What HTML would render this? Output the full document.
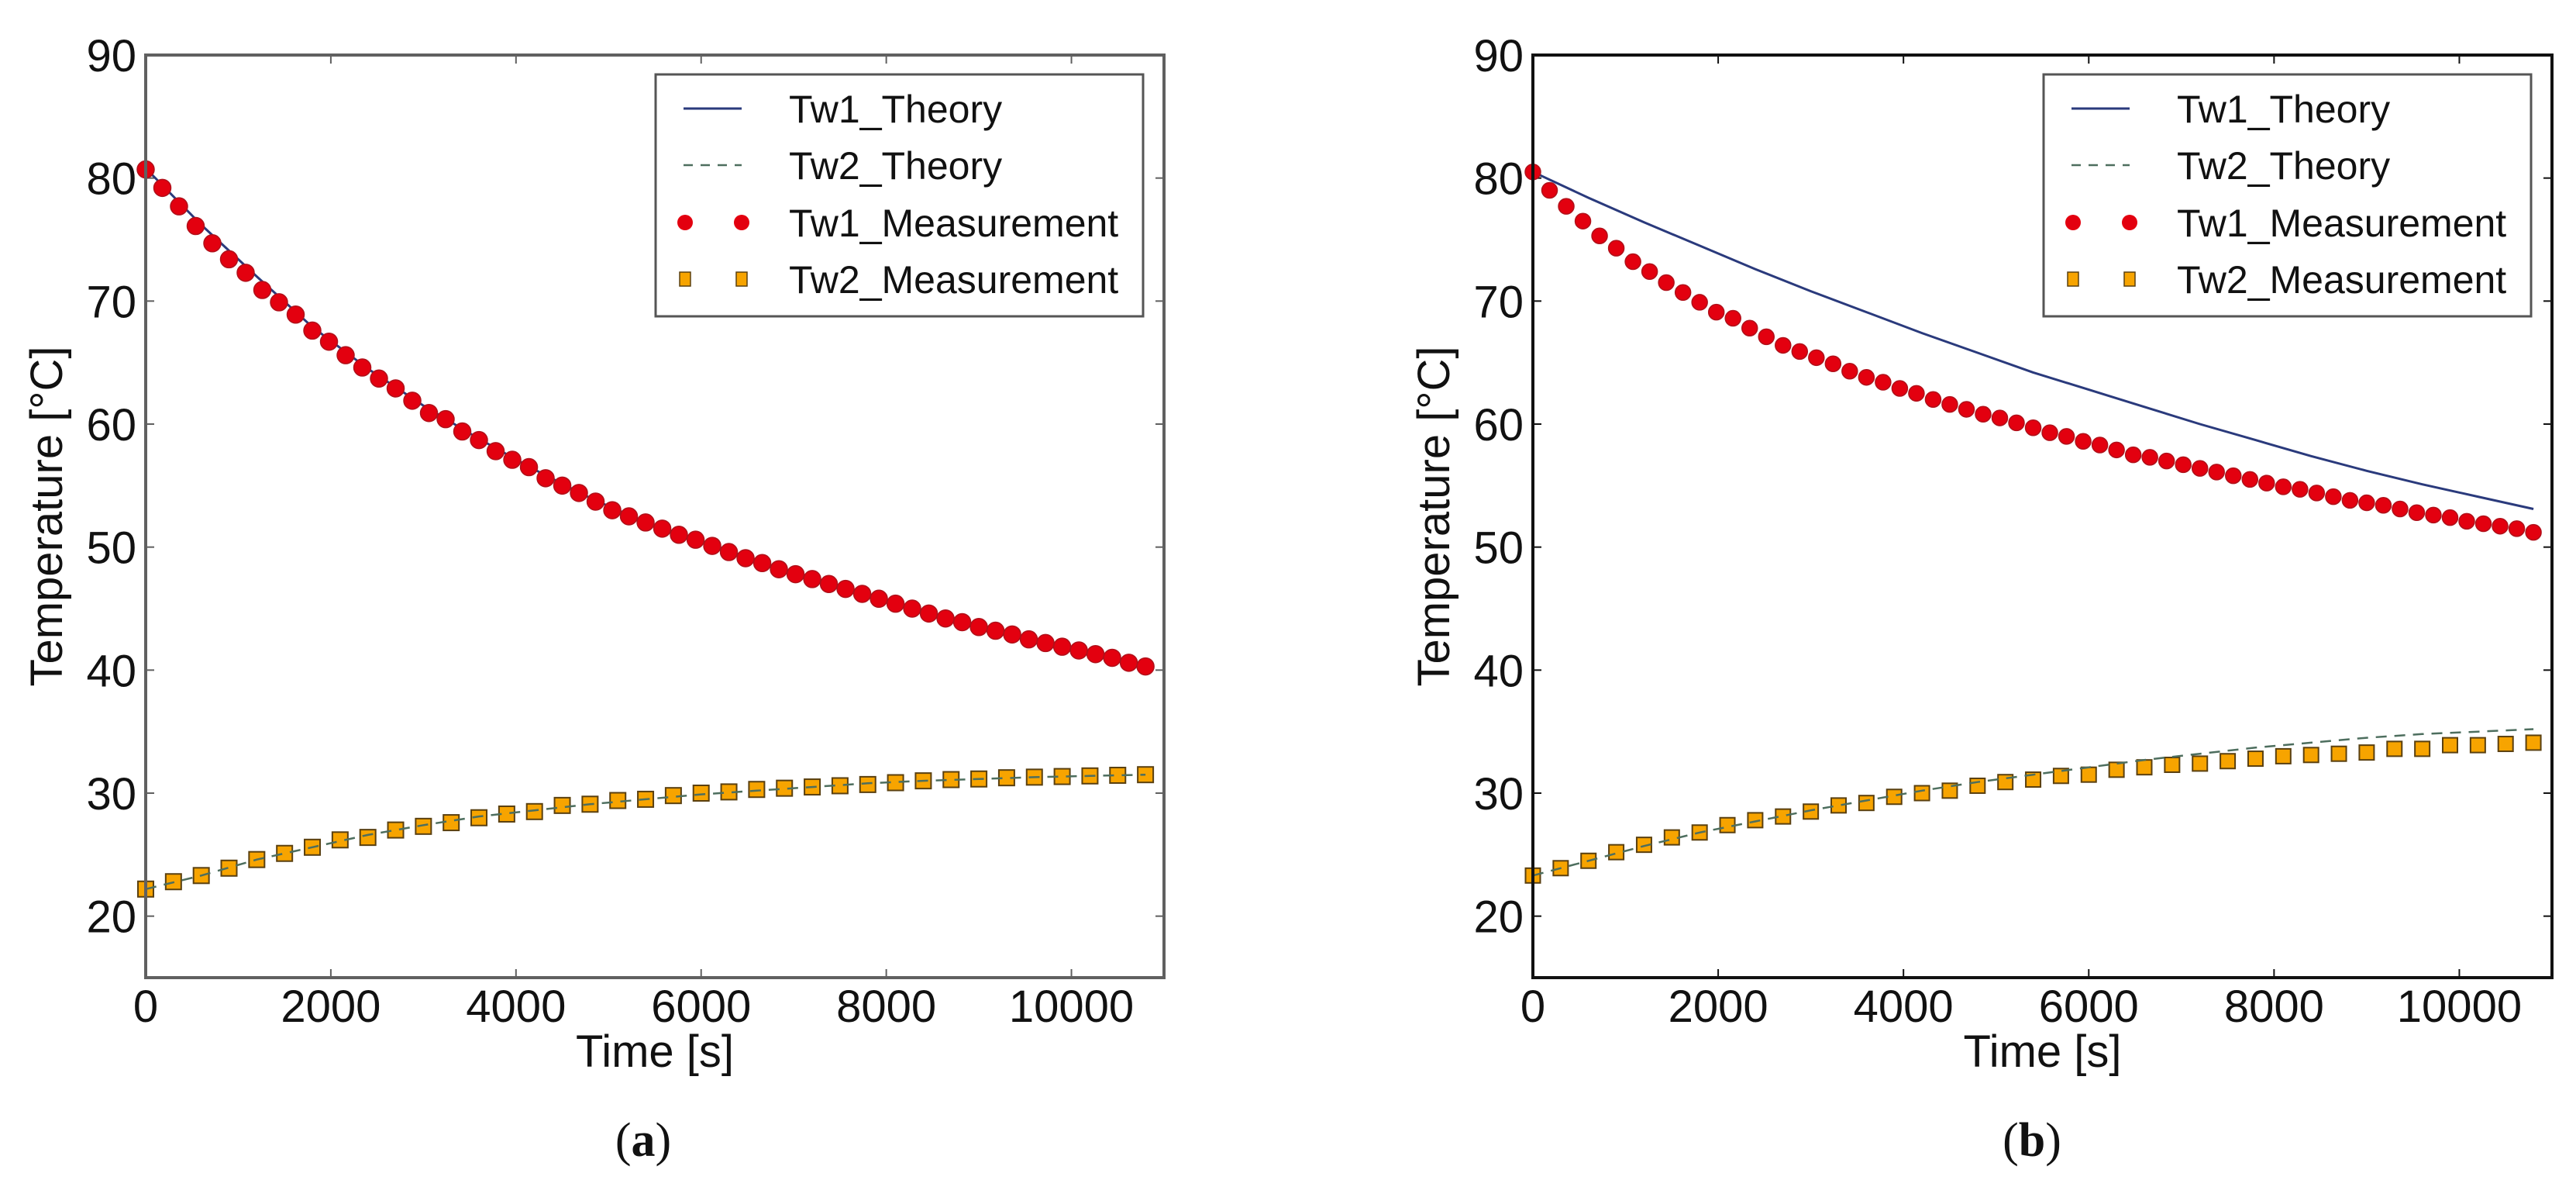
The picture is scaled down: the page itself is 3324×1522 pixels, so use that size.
<!DOCTYPE html>
<html><head><meta charset="utf-8"><title>Temperature vs Time</title>
<style>
html,body{margin:0;padding:0;background:#fff;}
svg{display:block;}
text{font-family:"Liberation Sans",Arial,sans-serif;fill:#111;}
</style></head>
<body>
<svg id="fig" width="3324" height="1522" viewBox="0 0 3324 1522" xmlns="http://www.w3.org/2000/svg">
<rect x="0" y="0" width="3324" height="1522" fill="#fff"/>
</svg>
<script>
// ---------- data ----------
const xTicks = [0, 2000, 4000, 6000, 8000, 10000];
const yTicks = [20, 30, 40, 50, 60, 70, 80, 90];
const legendLabels = ["Tw1_Theory", "Tw2_Theory", "Tw1_Measurement", "Tw2_Measurement"];
const theoryTimes = [0,600,1200,1800,2400,3000,3600,4200,4800,5400,6000,6600,7200,7800,8400,9000,9600,10200,10800];
const tw1DotStep = 180;
const tw2SqStep = 300;

// panel (a)
const aTw1Theory = [80.8,76.2,72.0,67.9,64.5,61.5,58.8,56.3,54.0,52.0,50.5,48.9,47.4,46.0,44.7,43.5,42.4,41.4,40.3];
const aTw2Theory = [22.2,23.3,24.6,25.6,26.6,27.4,28.1,28.6,29.1,29.5,29.9,30.2,30.5,30.8,31.0,31.15,31.3,31.4,31.5];
const aTw1Meas = [80.7,79.2,77.7,76.1,74.7,73.4,72.3,70.9,69.9,68.9,67.6,66.7,65.6,64.6,63.7,62.9,61.9,60.9,60.4,59.4,58.7,57.8,57.1,56.5,55.6,55.0,54.4,53.7,53.0,52.5,52.0,51.5,51.0,50.6,50.1,49.6,49.1,48.7,48.2,47.8,47.4,47.0,46.6,46.2,45.8,45.4,45.0,44.6,44.2,43.9,43.5,43.2,42.9,42.5,42.2,41.9,41.6,41.3,41.0,40.6,40.3];
const aTw2Meas = [22.2,22.8,23.3,23.9,24.6,25.1,25.6,26.2,26.4,27.0,27.3,27.6,28.0,28.3,28.5,29.0,29.1,29.4,29.5,29.8,30.0,30.1,30.3,30.4,30.5,30.6,30.7,30.85,31.0,31.1,31.15,31.25,31.3,31.35,31.4,31.45,31.5];

// panel (b)
const bTw1Theory = [80.5,78.4,76.4,74.5,72.6,70.8,69.1,67.4,65.8,64.2,62.8,61.4,60.0,58.7,57.4,56.2,55.1,54.1,53.1];
const bTw2Theory = [23.3,24.5,25.7,26.8,27.7,28.6,29.4,30.2,30.9,31.5,32.1,32.7,33.2,33.7,34.1,34.5,34.8,35.0,35.2];
const bTw1Meas = [80.5,79.0,77.7,76.5,75.3,74.3,73.2,72.4,71.5,70.7,69.9,69.1,68.6,67.8,67.1,66.4,65.9,65.4,64.9,64.3,63.8,63.4,62.9,62.5,62.0,61.6,61.2,60.8,60.5,60.1,59.7,59.3,59.0,58.6,58.3,57.9,57.5,57.3,57.0,56.7,56.4,56.1,55.8,55.5,55.2,54.9,54.7,54.4,54.1,53.8,53.6,53.4,53.1,52.8,52.6,52.4,52.1,51.9,51.7,51.5,51.2];
const bTw2Meas = [23.3,23.9,24.5,25.2,25.8,26.4,26.8,27.4,27.8,28.1,28.5,29.0,29.2,29.7,30.0,30.2,30.6,30.9,31.1,31.4,31.5,31.9,32.1,32.3,32.4,32.6,32.8,33.0,33.1,33.2,33.3,33.6,33.6,33.9,33.9,34.0,34.1];

// ---------- drawing ----------
const NS = "http://www.w3.org/2000/svg";
const svg = document.getElementById("fig");
function mk(tag, attrs, parent) {
  const e = document.createElementNS(NS, tag);
  for (const k in attrs) e.setAttribute(k, attrs[k]);
  (parent || svg).appendChild(e);
  return e;
}

function drawPanel(p) {
  const g = mk("g", {});
  
  
  const L = p.left, R = p.right, T = 71, B = 1261;
  const xMin = 0, xMax = 11000, yMin = 15, yMax = 90;
  const sx = v => L + (v - xMin) / (xMax - xMin) * (R - L);
  const sy = v => B - (v - yMin) / (yMax - yMin) * (B - T);

  const tg = mk("g", {}, g);
  
  
  xTicks.forEach(v => {
    const x = sx(v);
    mk("line", {x1:x, y1:B, x2:x, y2:B-11, stroke:p.axis, "stroke-width":2}, tg);
    mk("line", {x1:x, y1:T, x2:x, y2:T+11, stroke:p.axis, "stroke-width":2}, tg);
    const t = mk("text", {x:x, y:1318, "font-size":58, "text-anchor":"middle"}, tg);
    t.textContent = v;
    
    
  });
  yTicks.forEach(v => {
    const y = sy(v);
    mk("line", {x1:L, y1:y, x2:L+11, y2:y, stroke:p.axis, "stroke-width":2}, tg);
    mk("line", {x1:R, y1:y, x2:R-11, y2:y, stroke:p.axis, "stroke-width":2}, tg);
    const t = mk("text", {x:L-12, y:y+21, "font-size":58, "text-anchor":"end"}, tg);
    t.textContent = v;
    
    
  });

  const pts1 = theoryTimes.map((t,i) => sx(t).toFixed(1) + "," + sy(p.tw1T[i]).toFixed(1)).join(" ");
  const l1 = mk("polyline", {points:pts1, fill:"none", stroke:"#2a3a7c", "stroke-width":3, "stroke-linejoin":"round"}, g);
  
  

  const dg = mk("g", {}, g);
  
  
  p.tw1M.forEach((v,i) => {
    const c = mk("circle", {cx:sx(i*tw1DotStep), cy:sy(v), r:p.r, fill:"#e3000f", stroke:"#b0101a", "stroke-width":1.5}, dg);
    
    
  });
  const sg = mk("g", {}, g);
  
  
  p.tw2M.forEach((v,i) => {
    const s = p.sq;
    const r = mk("rect", {x:sx(i*tw2SqStep)-s/2, y:sy(v)-s/2, width:s, height:s, fill:"#f7a400", stroke:"#5a4010", "stroke-width":2}, sg);
    
    
  });

  const pts2 = theoryTimes.map((t,i) => sx(t).toFixed(1) + "," + sy(p.tw2T[i]).toFixed(1)).join(" ");
  const l2 = mk("polyline", {points:pts2, fill:"none", stroke:"#4d6e5e", "stroke-width":2.5, "stroke-dasharray":"14 10"}, g);
  
  

  const fr = mk("rect", {x:L, y:T, width:R-L, height:B-T, fill:"none", stroke:p.axis, "stroke-width":4}, g);
  
  

  const lg = mk("g", {}, g);
  
  
  const lx = R - 27 - 629, ly = 96;
  mk("rect", {x:lx, y:ly, width:629, height:312, fill:"#fff", stroke:"#555", "stroke-width":3}, lg);
  const rowY = [140, 213, 287, 360];
  const hx1 = lx + 36, hx2 = lx + 111;
  legendLabels.forEach((lab, i) => {
    const y = rowY[i];
    if (i === 0) mk("line", {x1:hx1, y1:y, x2:hx2, y2:y, stroke:"#2a3a7c", "stroke-width":3}, lg);
    if (i === 1) mk("line", {x1:hx1, y1:y, x2:hx2, y2:y, stroke:"#4d6e5e", "stroke-width":2.5, "stroke-dasharray":"12 10"}, lg);
    if (i === 2) { [hx1+2, hx2].forEach(cx => mk("circle", {cx:cx, cy:y, r:10, fill:"#e3000f"}, lg)); }
    if (i === 3) { [hx1+2, hx2].forEach(cx => mk("rect", {x:cx-7, y:y-9, width:14, height:18, fill:"#f7a400", stroke:"#5a4010", "stroke-width":1.5}, lg)); }
    const t = mk("text", {x:lx+172, y:y+18, "font-size":50}, lg);
    t.textContent = lab;
    
    
  });

  const xt = mk("text", {x:(L+R)/2, y:1376, "font-size":58, "text-anchor":"middle"}, g);
  xt.textContent = "Time [s]";
  
  
  const ycx = L - 128, ycy = (T+B)/2;
  const yt = mk("text", {x:ycx, y:ycy+20, "font-size":58, "text-anchor":"middle", transform:"rotate(-90 " + ycx + " " + ycy + ")"}, g);
  yt.textContent = "Temperature [°C]";
  
  

  const cap = mk("text", {x:p.capX, y:1491, "font-size":62, "text-anchor":"middle", style:"font-family:'Liberation Serif',serif"}, g);
  cap.innerHTML = "(<tspan font-weight='bold'>" + p.id + "</tspan>)";
  
  
}

drawPanel({id:"a", left:188, right:1502, axis:"#606060", r:11, sq:20, capX:830,
  tw1T:aTw1Theory, tw2T:aTw2Theory, tw1M:aTw1Meas, tw2M:aTw2Meas});
drawPanel({id:"b", left:1978, right:3293, axis:"#111", r:10, sq:19, capX:2622,
  tw1T:bTw1Theory, tw2T:bTw2Theory, tw1M:bTw1Meas, tw2M:bTw2Meas});
</script>
</body></html>
